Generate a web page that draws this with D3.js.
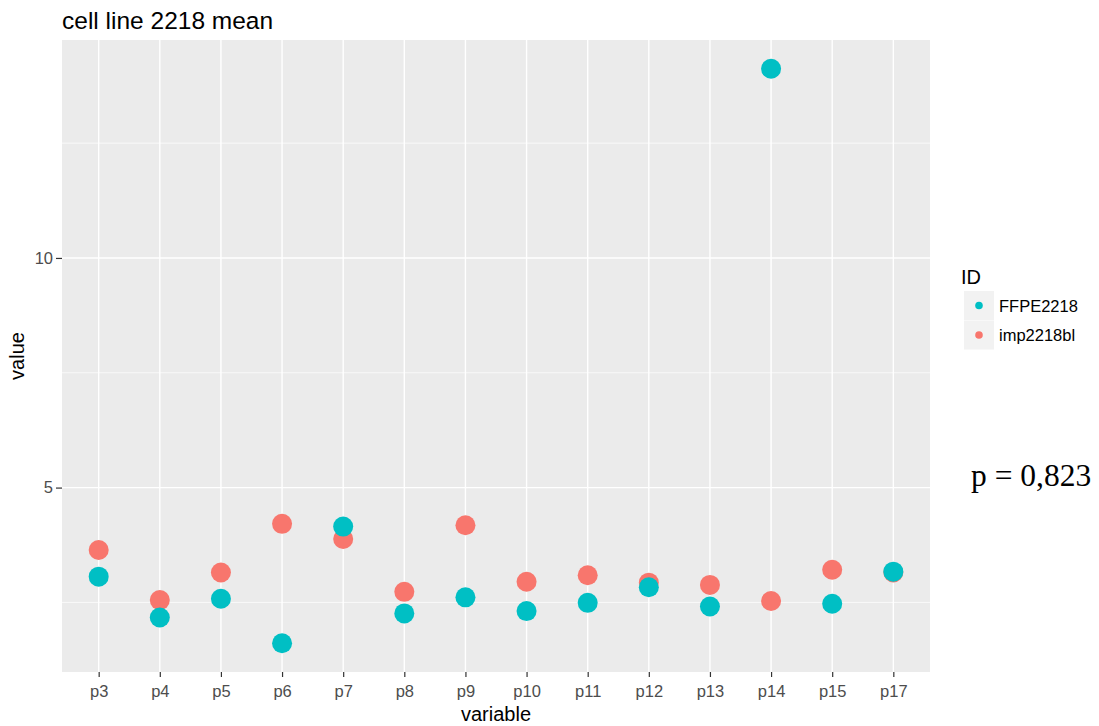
<!DOCTYPE html>
<html><head><meta charset="utf-8">
<script src="https://cdn.jsdelivr.net/npm/d3@7"></script>
<style>body{margin:0;background:#fff}svg{display:block}</style>
</head><body>
<svg id="c" width="1099" height="726"></svg>
<script>
const categories = ["p3","p4","p5","p6","p7","p8","p9","p10","p11","p12","p13","p14","p15","p17"];
const imp2218bl = [3.64,2.55,3.15,4.21,3.88,2.73,4.18,2.95,3.09,2.93,2.88,2.53,3.21,3.15];
const FFPE2218 = [3.06,2.17,2.58,1.61,4.15,2.26,2.61,2.31,2.49,2.83,2.41,14.12,2.47,3.17];
const seriesNames = ["FFPE2218","imp2218bl"];
const seriesColors = {"FFPE2218":"#00BFC4","imp2218bl":"#F8766D"};
const yMajor = [5,10];
const yMinor = [2.5,7.5,12.5];

const svg = d3.select("#c");
const L=62, R=930, T=40, B=672;
const font = "'Liberation Sans', Arial, sans-serif";

const all = imp2218bl.concat(FFPE2218);
const lo = d3.min(all), hi = d3.max(all), span = hi-lo;
const y = d3.scaleLinear().domain([lo-0.05*span, hi+0.05*span]).range([B,T]);
const step = (R-L)/(categories.length-1+1.2);
const x = d3.scalePoint().domain(categories).range([L+0.6*step, R-0.6*step]);

svg.append("rect").attr("x",L).attr("y",T).attr("width",R-L).attr("height",B-T).attr("fill","#EBEBEB");
const g = svg.append("g");
g.selectAll(".ymin").data(yMinor).join("line").attr("x1",L).attr("x2",R)
  .attr("y1",d=>y(d)).attr("y2",d=>y(d)).attr("stroke","#fff").attr("stroke-width",0.7);
g.selectAll(".ymaj").data(yMajor).join("line").attr("x1",L).attr("x2",R)
  .attr("y1",d=>y(d)).attr("y2",d=>y(d)).attr("stroke","#fff").attr("stroke-width",1.4);
g.selectAll(".xmaj").data(categories).join("line").attr("y1",T).attr("y2",B)
  .attr("x1",d=>x(d)).attr("x2",d=>x(d)).attr("stroke","#fff").attr("stroke-width",1.4);

// axes
const ya = svg.append("g").attr("transform",`translate(${L},0)`)
  .call(d3.axisLeft(y).tickValues(yMajor).tickSize(6).tickPadding(3).tickFormat(d3.format("d")));
const xa = svg.append("g").attr("transform",`translate(0,${B})`)
  .call(d3.axisBottom(x).tickSize(5).tickPadding(8));
[ya,xa].forEach(a=>{
  a.select(".domain").remove();
  a.selectAll("line").attr("stroke","#333").attr("stroke-width",1.2);
  a.selectAll("text").attr("fill","#4D4D4D").attr("font-family",font).attr("font-size","16.5px");
});

// points: imp first, FFPE on top
const drawSeries = (name, vals) => {
  svg.append("g").selectAll("circle").data(vals).join("circle")
    .attr("cx",(d,i)=>x(categories[i])).attr("cy",d=>y(d)).attr("r",10)
    .attr("fill",seriesColors[name]);
};
drawSeries("imp2218bl", imp2218bl);
drawSeries("FFPE2218", FFPE2218);

// titles
svg.append("text").attr("x",L).attr("y",29).text("cell line 2218 mean")
  .style("font-family",font).style("font-size","24.5px").attr("fill","#000");
svg.append("text").attr("x",(L+R)/2).attr("y",721).attr("text-anchor","middle").text("variable")
  .style("font-family",font).style("font-size","20px").attr("fill","#000");
svg.append("text").attr("transform",`translate(24,${(T+B)/2}) rotate(-90)`).attr("text-anchor","middle").text("value")
  .style("font-family",font).style("font-size","20px").attr("fill","#000");

// legend
svg.append("text").attr("x",961).attr("y",284).text("ID")
  .style("font-family",font).style("font-size","20px").attr("fill","#000");
const lg = svg.append("g").selectAll("g").data(seriesNames).join("g")
  .attr("transform",(d,i)=>`translate(964,${291+i*29.5})`);
lg.append("rect").attr("width",30).attr("height",29).attr("fill","#F2F2F2");
lg.append("circle").attr("cx",15).attr("cy",14.5).attr("r",3.8).attr("fill",d=>seriesColors[d]);
lg.append("text").attr("x",35).attr("y",20.5).text(d=>d)
  .style("font-family",font).style("font-size","16.5px").attr("fill","#000");

// annotation
svg.append("text").attr("x",971).attr("y",486).text("p = 0,823")
  .style("font-family","'Liberation Serif', 'Times New Roman', serif").style("font-size","31.5px").attr("fill","#000");
</script>
</body></html>
